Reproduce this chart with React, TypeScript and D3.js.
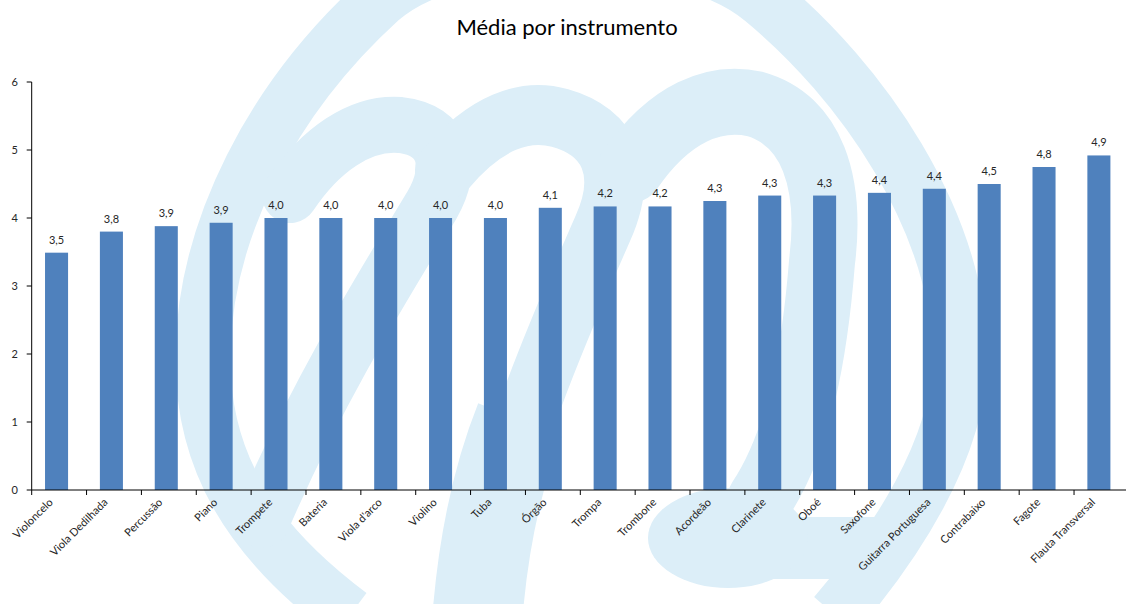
import React from "react";
import * as d3 from "d3";

const categories = [
  "Violoncelo", "Viola Dedilhada", "Percussão", "Piano", "Trompete", "Bateria",
  "Viola d'arco", "Violino", "Tuba", "Órgão", "Trompa", "Trombone", "Acordeão",
  "Clarinete", "Oboé", "Saxofone", "Guitarra Portuguesa", "Contrabaixo", "Fagote",
  "Flauta Transversal",
];
const values = [
  3.49, 3.8, 3.88, 3.93, 4.0, 4.0, 4.0, 4.0, 4.0, 4.15, 4.17, 4.17, 4.25,
  4.33, 4.33, 4.37, 4.43, 4.5, 4.75, 4.92,
];
const valueLabels = [
  "3,5", "3,8", "3,9", "3,9", "4,0", "4,0", "4,0", "4,0", "4,0", "4,1", "4,2",
  "4,2", "4,3", "4,3", "4,3", "4,4", "4,4", "4,5", "4,8", "4,9",
];
const yTicks = [0, 1, 2, 3, 4, 5, 6];
const title = "Média por instrumento";

const W = 1126;
const H = 604;
const FONT = "Lato, 'Open Sans', sans-serif";

// decorative background watermark (logo-like shape)
const wmRing =
  "M 350 615 C 250 540, 200 460, 203 350 C 206 230, 270 100, 380 0 C 460 -70, 680 -70, 763 0 C 860 80, 960 220, 960 360 C 958 450, 895 545, 835 615";
const wmHumpA =
  "M 290 195 C 320 150, 360 122, 400 125 C 445 130, 455 165, 432 205 C 390 275, 320 385, 262 520";
const wmHumpB =
  "M 445 170 C 485 122, 525 108, 560 118 C 610 132, 628 172, 603 228 C 562 322, 512 432, 472 600";
const wmLegB = "M 520 420 C 500 470, 485 530, 478 610";
const wmHumpC =
  "M 630 170 C 670 112, 715 95, 755 104 C 812 120, 832 182, 822 262 C 815 350, 800 440, 760 500";
const wmTail = "M 720 548 L 880 548";

export default function App() {
  const x = d3
    .scaleBand<string>()
    .domain(categories)
    .range([31.7, 1126.7])
    .paddingInner(0.58)
    .paddingOuter(0.27)
    .align(0.45);
  const y = d3.scaleLinear().domain([0, 6]).range([490, 82]);
  const step = x.step();
  const x0 = 31.7;
  const wm = "#dceef8";

  return (
    <svg width={W} height={H} style={{ display: "block", position: "absolute", left: 0, top: 0 }}>
      <rect x={0} y={0} width={W} height={H} fill="#ffffff" />
      <g fill="none" stroke={wm} strokeLinecap="round" strokeLinejoin="round">
        <path d={wmRing} strokeWidth={55} strokeLinecap="butt" />
        <path d={wmHumpA} strokeWidth={56} />
        <path d={wmHumpB} strokeWidth={60} />
        <path d={wmLegB} strokeWidth={90} strokeLinecap="butt" />
        <path d={wmHumpC} strokeWidth={66} />
        <path d={wmTail} strokeWidth={62} />
      </g>
      <ellipse cx={728} cy={538} rx={80} ry={50} fill={wm} />
      <text x={567} y={35} textAnchor="middle" fontFamily={FONT} fontSize={22} fill="#000">
        {title}
      </text>
      {categories.map((c, i) => (
        <rect
          key={c}
          x={x(c)}
          y={y(values[i])}
          width={x.bandwidth()}
          height={y(0) - y(values[i])}
          fill="#4f81bd"
        />
      ))}
      {categories.map((c, i) => (
        <text
          key={"v" + c}
          x={(x(c) as number) + x.bandwidth() / 2}
          y={y(values[i]) - 9}
          textAnchor="middle"
          fontFamily={FONT}
          fontSize={11}
          fill="#262626"
        >
          {valueLabels[i]}
        </text>
      ))}
      <line x1={x0} x2={x0} y1={y(6)} y2={y(0)} stroke="#000" strokeWidth={1} />
      {yTicks.map((t) => (
        <g key={"yt" + t}>
          <line x1={x0 - 5} x2={x0} y1={y(t)} y2={y(t)} stroke="#000" />
          <text
            x={18}
            y={y(t) + 4}
            textAnchor="end"
            fontFamily={FONT}
            fontSize={11}
            fill="#262626"
          >
            {t}
          </text>
        </g>
      ))}
      <line x1={x0} x2={W} y1={y(0)} y2={y(0)} stroke="#000" strokeWidth={1} />
      {d3.range(categories.length + 1).map((k) => (
        <line
          key={"xt" + k}
          x1={x0 + k * step}
          x2={x0 + k * step}
          y1={y(0)}
          y2={y(0) + 5}
          stroke="#000"
        />
      ))}
      {categories.map((c) => {
        const cx = (x(c) as number) + x.bandwidth() / 2 - 3;
        const cy = y(0) + 13;
        return (
          <text
            key={"xl" + c}
            transform={`translate(${cx},${cy}) rotate(-45)`}
            textAnchor="end"
            fontFamily={FONT}
            fontSize={11}
            fill="#262626"
          >
            {c}
          </text>
        );
      })}
    </svg>
  );
}
